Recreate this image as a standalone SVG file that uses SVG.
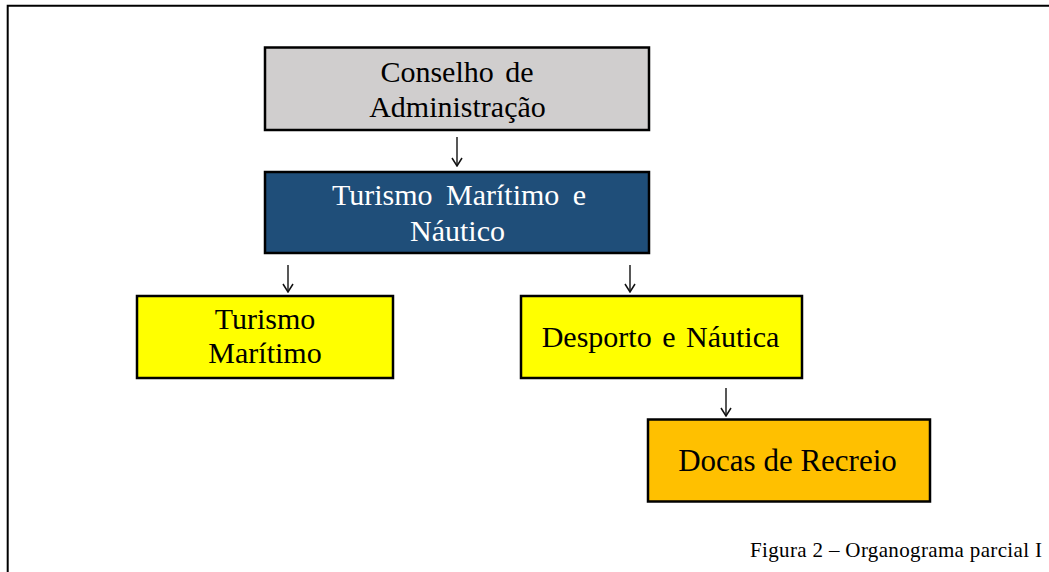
<svg xmlns="http://www.w3.org/2000/svg" width="1049" height="572" viewBox="0 0 1049 572">
<style>
.box{stroke:#000;stroke-width:2.5}
.t{font-family:"Liberation Serif","Times New Roman",serif;font-size:30px;text-anchor:middle;fill:#000}
.w{fill:#fff}
.cap{font-family:"Liberation Serif","Times New Roman",serif;font-size:21px;fill:#000}
.conn{stroke:#111;stroke-width:1.4;fill:none}
</style>
<defs>
<marker id="ah" markerWidth="10" markerHeight="12" refX="9" refY="6" orient="auto" markerUnits="userSpaceOnUse" viewBox="0 0 10 12">
<path d="M1,1 L9,6 L1,11" fill="none" stroke="#111" stroke-width="1.5"/>
</marker>
</defs>
<rect width="1049" height="572" fill="#fff"/>
<g id="frame">
<path d="M7.7,572 V5.8 H1049" fill="none" stroke="#000" stroke-width="2"/>
</g>
<g id="connectors">
<path class="conn" d="M457,137 V166" marker-end="url(#ah)"/>
<path class="conn" d="M288,265 V292" marker-end="url(#ah)"/>
<path class="conn" d="M630,265 V292" marker-end="url(#ah)"/>
<path class="conn" d="M726,388 V416" marker-end="url(#ah)"/>
</g>
<g id="conselho">
<rect class="box" x="265" y="47.5" width="384" height="82.5" fill="#D0CECE"/>
<text class="t" x="457" y="82" word-spacing="4">Conselho de</text>
<text class="t" x="457.5" y="117">Administração</text>
</g>
<g id="turismo-nautico">
<rect class="box" x="265" y="172" width="384" height="81" fill="#1F4E79"/>
<text class="t w" x="459" y="205" word-spacing="6">Turismo Marítimo e</text>
<text class="t w" x="457.5" y="241">Náutico</text>
</g>
<g id="turismo-maritimo">
<rect class="box" x="137" y="296" width="256" height="82" fill="#FFFF00"/>
<text class="t" x="265" y="329">Turismo</text>
<text class="t" x="265" y="363">Marítimo</text>
</g>
<g id="desporto-nautica">
<rect class="box" x="521" y="296" width="281" height="82" fill="#FFFF00"/>
<text class="t" x="660.5" y="347" word-spacing="3">Desporto e Náutica</text>
</g>
<g id="docas-recreio">
<rect class="box" x="648" y="419.5" width="282" height="82" fill="#FFC000"/>
<text class="t" x="787.5" y="471" style="font-size:31px">Docas de Recreio</text>
</g>
<text class="cap" x="750" y="557" textLength="292" lengthAdjust="spacing">Figura 2 – Organograma parcial I</text>
</svg>
